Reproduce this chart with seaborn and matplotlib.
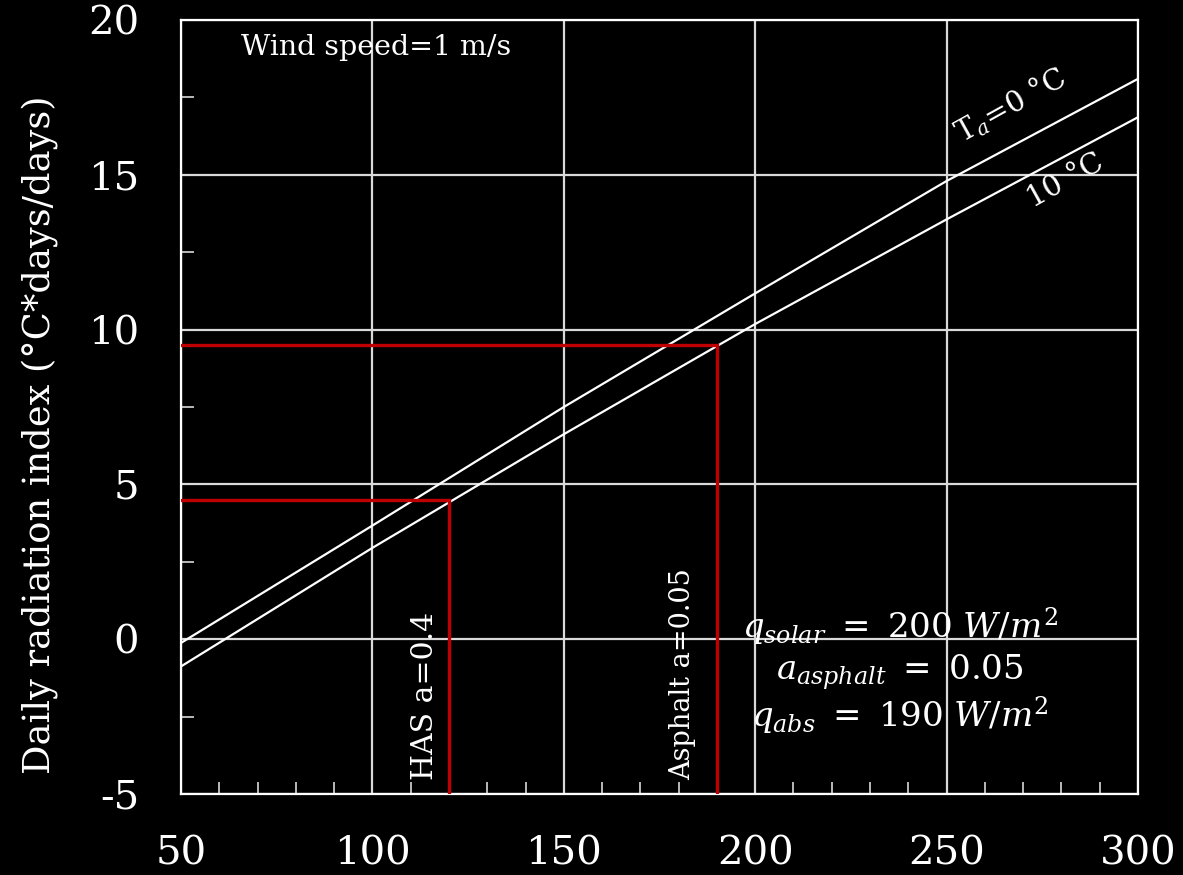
import matplotlib
matplotlib.use("Agg")
import matplotlib.pyplot as plt
import matplotlib.ticker as mticker
import pandas as pd
import seaborn as sns

# absorbed heat flux (W/m2) vs daily radiation index
q_abs = [50, 100, 150, 200, 250, 300]
index_0c = [-0.12, 3.67, 7.5, 11.17, 14.8, 18.1]
index_10c = [-0.88, 2.95, 6.62, 10.18, 13.56, 16.86]

# red guide lines: (q_abs, index)
has_point = (120, 4.5)
asphalt_point = (190, 9.5)

df = pd.concat([
    pd.DataFrame({'q': q_abs, 'idx': index_0c, 'Ta': '0'}),
    pd.DataFrame({'q': q_abs, 'idx': index_10c, 'Ta': '10'}),
])

sns.set_theme(style='dark', rc={
    'figure.facecolor': 'black', 'axes.facecolor': 'black',
    'axes.edgecolor': 'white', 'text.color': 'white',
    'xtick.color': 'white', 'ytick.color': 'white',
    'axes.labelcolor': 'white',
})
plt.rcParams['font.family'] = ['DejaVu Serif']
plt.rcParams['mathtext.fontset'] = 'dejavuserif'

fig = plt.figure(figsize=(11.83, 8.75), dpi=100)
ax = fig.add_axes([181 / 1183, 1 - 794 / 875, (1138 - 181) / 1183, (794 - 20) / 875])

sns.lineplot(data=df, x='q', y='idx', units='Ta', estimator=None,
             color='white', lw=1.6, ax=ax, zorder=3)

red = '#c00000'
for qx, iy in (has_point, asphalt_point):
    ax.plot([50, qx, qx], [iy, iy, -5], color=red, lw=2.4, zorder=4,
            solid_joinstyle='miter')

ax.set_xlim(50, 300)
ax.set_ylim(-5, 20)
ax.xaxis.set_major_locator(mticker.MultipleLocator(50))
ax.yaxis.set_major_locator(mticker.MultipleLocator(5))
ax.xaxis.set_minor_locator(mticker.MultipleLocator(10))
ax.yaxis.set_minor_locator(mticker.MultipleLocator(2.5))
ax.grid(True, which='major', color='#d9d9d9', lw=1.6, zorder=1)
ax.tick_params(which='major', length=0, labelsize=29)
ax.tick_params(axis='x', which='major', pad=30)
ax.tick_params(axis='y', which='major', pad=30)
ax.tick_params(which='minor', direction='in', length=9, width=1.2, color='#d9d9d9')
ax.tick_params(axis='x', which='minor', bottom=True)
ax.tick_params(axis='y', which='minor', left=True)
ax.set_yticklabels([str(int(v)) for v in ax.get_yticks()])
for s in ax.spines.values():
    s.set_color('white')
    s.set_linewidth(1.6)

ax.set_xlabel('')
ax.set_ylabel('Daily radiation index (°C*days/days)', fontsize=26.5)
ax.yaxis.set_label_coords(-0.129, 0.464)

ax.text(0.063, 0.964, 'Wind speed=1 m/s', transform=ax.transAxes, fontsize=20.5,
        ha='left', va='center')
ax.text(266.6, 17.25, r'T$_a$=0 °C', fontsize=21, rotation=29, ha='center', va='center')
ax.text(281, 14.8, '10 °C', fontsize=21, rotation=29, ha='center', va='center')
ax.text(113.7, -4.55, 'HAS a=0.4', fontsize=21.5, rotation=90, ha='center', va='bottom')
ax.text(181, -4.55, 'Asphalt a=0.05', fontsize=19.5, rotation=90, ha='center', va='bottom')

ax.text(237.8, 0.39, r'$q_{solar}\ =\ 200\ W/m^2$', fontsize=24.5, ha='center', va='center')
ax.text(237.8, -1.06, r'$a_{asphalt}\ =\ 0.05$', fontsize=24.5, ha='center', va='center')
ax.text(237.8, -2.48, r'$q_{abs}\ =\ 190\ W/m^2$', fontsize=24.5, ha='center', va='center')

fig.savefig('out.png', dpi=100, facecolor='black')
